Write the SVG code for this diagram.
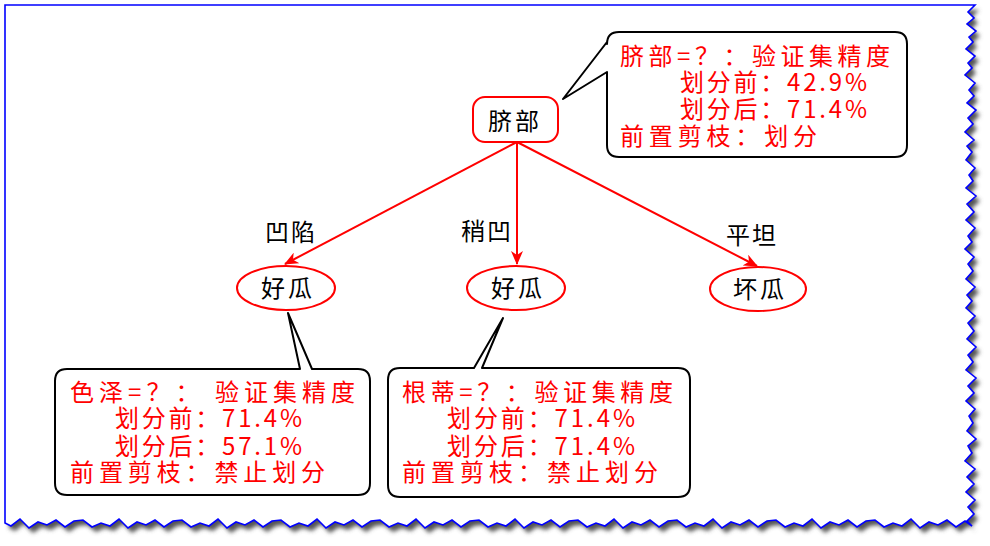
<svg xmlns="http://www.w3.org/2000/svg" width="990" height="546" viewBox="0 0 990 546">
<defs>
<style>
.t{font-family:"Noto Sans CJK SC","Noto Sans",sans-serif;font-size:24px}
.red{fill:#ff0000}
.blk{fill:#000}
.node{fill:#fff;stroke:#ff0000;stroke-width:2}
.edge{stroke:#ff0000;stroke-width:2;fill:none;marker-end:url(#ah)}
.call{fill:#fff;stroke:#000;stroke-width:2;stroke-linejoin:round}
</style>
<marker id="ah" viewBox="0 0 14 12" refX="13" refY="6" markerWidth="14" markerHeight="12" markerUnits="userSpaceOnUse" orient="auto">
<path d="M0,0 L14,6 L0,12 L4,6 Z" fill="#ff0000"/>
</marker>
<filter id="sh" x="-5%" y="-5%" width="110%" height="110%"><feGaussianBlur stdDeviation="2"/></filter>
<path id="edgepath" d="M5,5 L975,5 L968,12 974,18 967,24 976,31 969,37 973,42 966,49 975,56 968,63 972,68 965,75 975,83 969,90 974,96 967,103 976,110 968,118 973,124 965,132 974,140 967,146 972,152 966,160 975,168 969,175 973,181 966,188 976,196 967,204 974,212 966,220 975,228 968,236 972,242 965,249 974,257 968,264 973,271 966,279 975,287 967,295 972,301 966,308 975,316 968,323 974,331 967,339 976,347 968,355 973,362 966,370 976,378 968,386 974,393 966,401 975,409 969,416 973,423 967,431 976,439 968,446 972,453 965,461 975,469 967,477 974,484 966,492 975,500 968,507 974,514 967,521 972,526 965,521 956,527 947,520 938,525 929,522 920,528 911,519 902,526 893,523 884,527 875,520 866,521 857,527 848,520 839,525 830,522 821,528 812,519 803,526 794,523 785,527 776,520 767,521 758,527 749,520 740,525 731,522 722,528 713,519 704,526 695,523 686,527 677,520 668,521 659,527 650,520 641,525 632,522 623,528 614,519 605,526 596,523 587,527 578,520 569,521 560,527 551,520 542,525 533,522 524,528 515,519 506,526 497,523 488,527 479,520 470,521 461,527 452,520 443,525 434,522 425,528 416,519 407,526 398,523 389,527 380,520 371,521 362,527 353,520 344,525 335,522 326,528 317,519 308,526 299,523 290,527 281,520 272,521 263,527 254,520 245,525 236,522 227,528 218,519 209,526 200,523 191,527 182,520 173,521 164,527 155,520 146,525 137,522 128,528 119,519 110,526 101,523 92,527 83,520 74,521 65,527 56,520 47,525 38,522 29,528 20,519 11,526 5,523 Z"/>
</defs>
<g id="frame">
<use href="#edgepath" transform="translate(4,5)" fill="#555" filter="url(#sh)"/>
<use href="#edgepath" fill="#fff" stroke="#0000ff" stroke-width="1.6"/>
</g>
<g id="connectors">
<line class="edge" x1="517" y1="142" x2="285" y2="264"/>
<line class="edge" x1="517" y1="142" x2="517" y2="264"/>
<line class="edge" x1="517" y1="142" x2="757" y2="266"/>
<text class="t blk" x="291" y="241" text-anchor="middle" letter-spacing="2">凹陷</text>
<text class="t blk" x="487" y="240" text-anchor="middle" letter-spacing="2">稍凹</text>
<text class="t blk" x="752" y="244" text-anchor="middle" letter-spacing="2">平坦</text>
</g>
<g id="root">
<rect class="node" x="473" y="97" width="85" height="45" rx="12"/>
<text class="t blk" x="515" y="130" text-anchor="middle" letter-spacing="3">脐部</text>
</g>
<g id="leaf1">
<ellipse class="node" cx="286" cy="288" rx="49" ry="22"/>
<text class="t blk" x="288" y="297" text-anchor="middle" letter-spacing="3">好瓜</text>
</g>
<g id="leaf2">
<ellipse class="node" cx="516" cy="288" rx="49" ry="22"/>
<text class="t blk" x="518" y="297" text-anchor="middle" letter-spacing="3">好瓜</text>
</g>
<g id="leaf3">
<ellipse class="node" cx="758" cy="289" rx="48" ry="22"/>
<text class="t blk" x="760" y="298" text-anchor="middle" letter-spacing="3">坏瓜</text>
</g>
<g id="callout-root">
<path class="call" d="M619,32 H895 Q907,32 907,44 V145 Q907,157 895,157 H619 Q607,157 607,145 V72 L563,99 L607,42 V44 Q607,32 619,32 Z"/>
<text class="t red" x="620" y="65" textLength="270" lengthAdjust="spacing">脐部=？：验证集精度</text>
<text class="t red" x="680" y="91" textLength="187" lengthAdjust="spacing">划分前：42.9%</text>
<text class="t red" x="680" y="118" textLength="187" lengthAdjust="spacing">划分后：71.4%</text>
<text class="t red" x="620" y="145" textLength="197" lengthAdjust="spacing">前置剪枝：划分</text>
</g>
<g id="callout-left">
<path class="call" d="M67,369 H300 L288,313 L312,369 H358 Q370,369 370,381 V483 Q370,495 358,495 H67 Q55,495 55,483 V381 Q55,369 67,369 Z"/>
<text class="t red" x="70" y="401" textLength="285" lengthAdjust="spacing">色泽=？：  验证集精度</text>
<text class="t red" x="115" y="427" textLength="187" lengthAdjust="spacing">划分前：71.4%</text>
<text class="t red" x="115" y="455" textLength="187" lengthAdjust="spacing">划分后：57.1%</text>
<text class="t red" x="70" y="481" textLength="255" lengthAdjust="spacing">前置剪枝：禁止划分</text>
</g>
<g id="callout-mid">
<path class="call" d="M400,368 H474 L503,318 L482,368 H678 Q690,368 690,380 V485 Q690,497 678,497 H400 Q388,497 388,485 V380 Q388,368 400,368 Z"/>
<text class="t red" x="402" y="401" textLength="271" lengthAdjust="spacing">根蒂=？：验证集精度</text>
<text class="t red" x="447" y="427" textLength="188" lengthAdjust="spacing">划分前：71.4%</text>
<text class="t red" x="447" y="455" textLength="188" lengthAdjust="spacing">划分后：71.4%</text>
<text class="t red" x="402" y="481" textLength="256" lengthAdjust="spacing">前置剪枝：禁止划分</text>
</g>
</svg>
